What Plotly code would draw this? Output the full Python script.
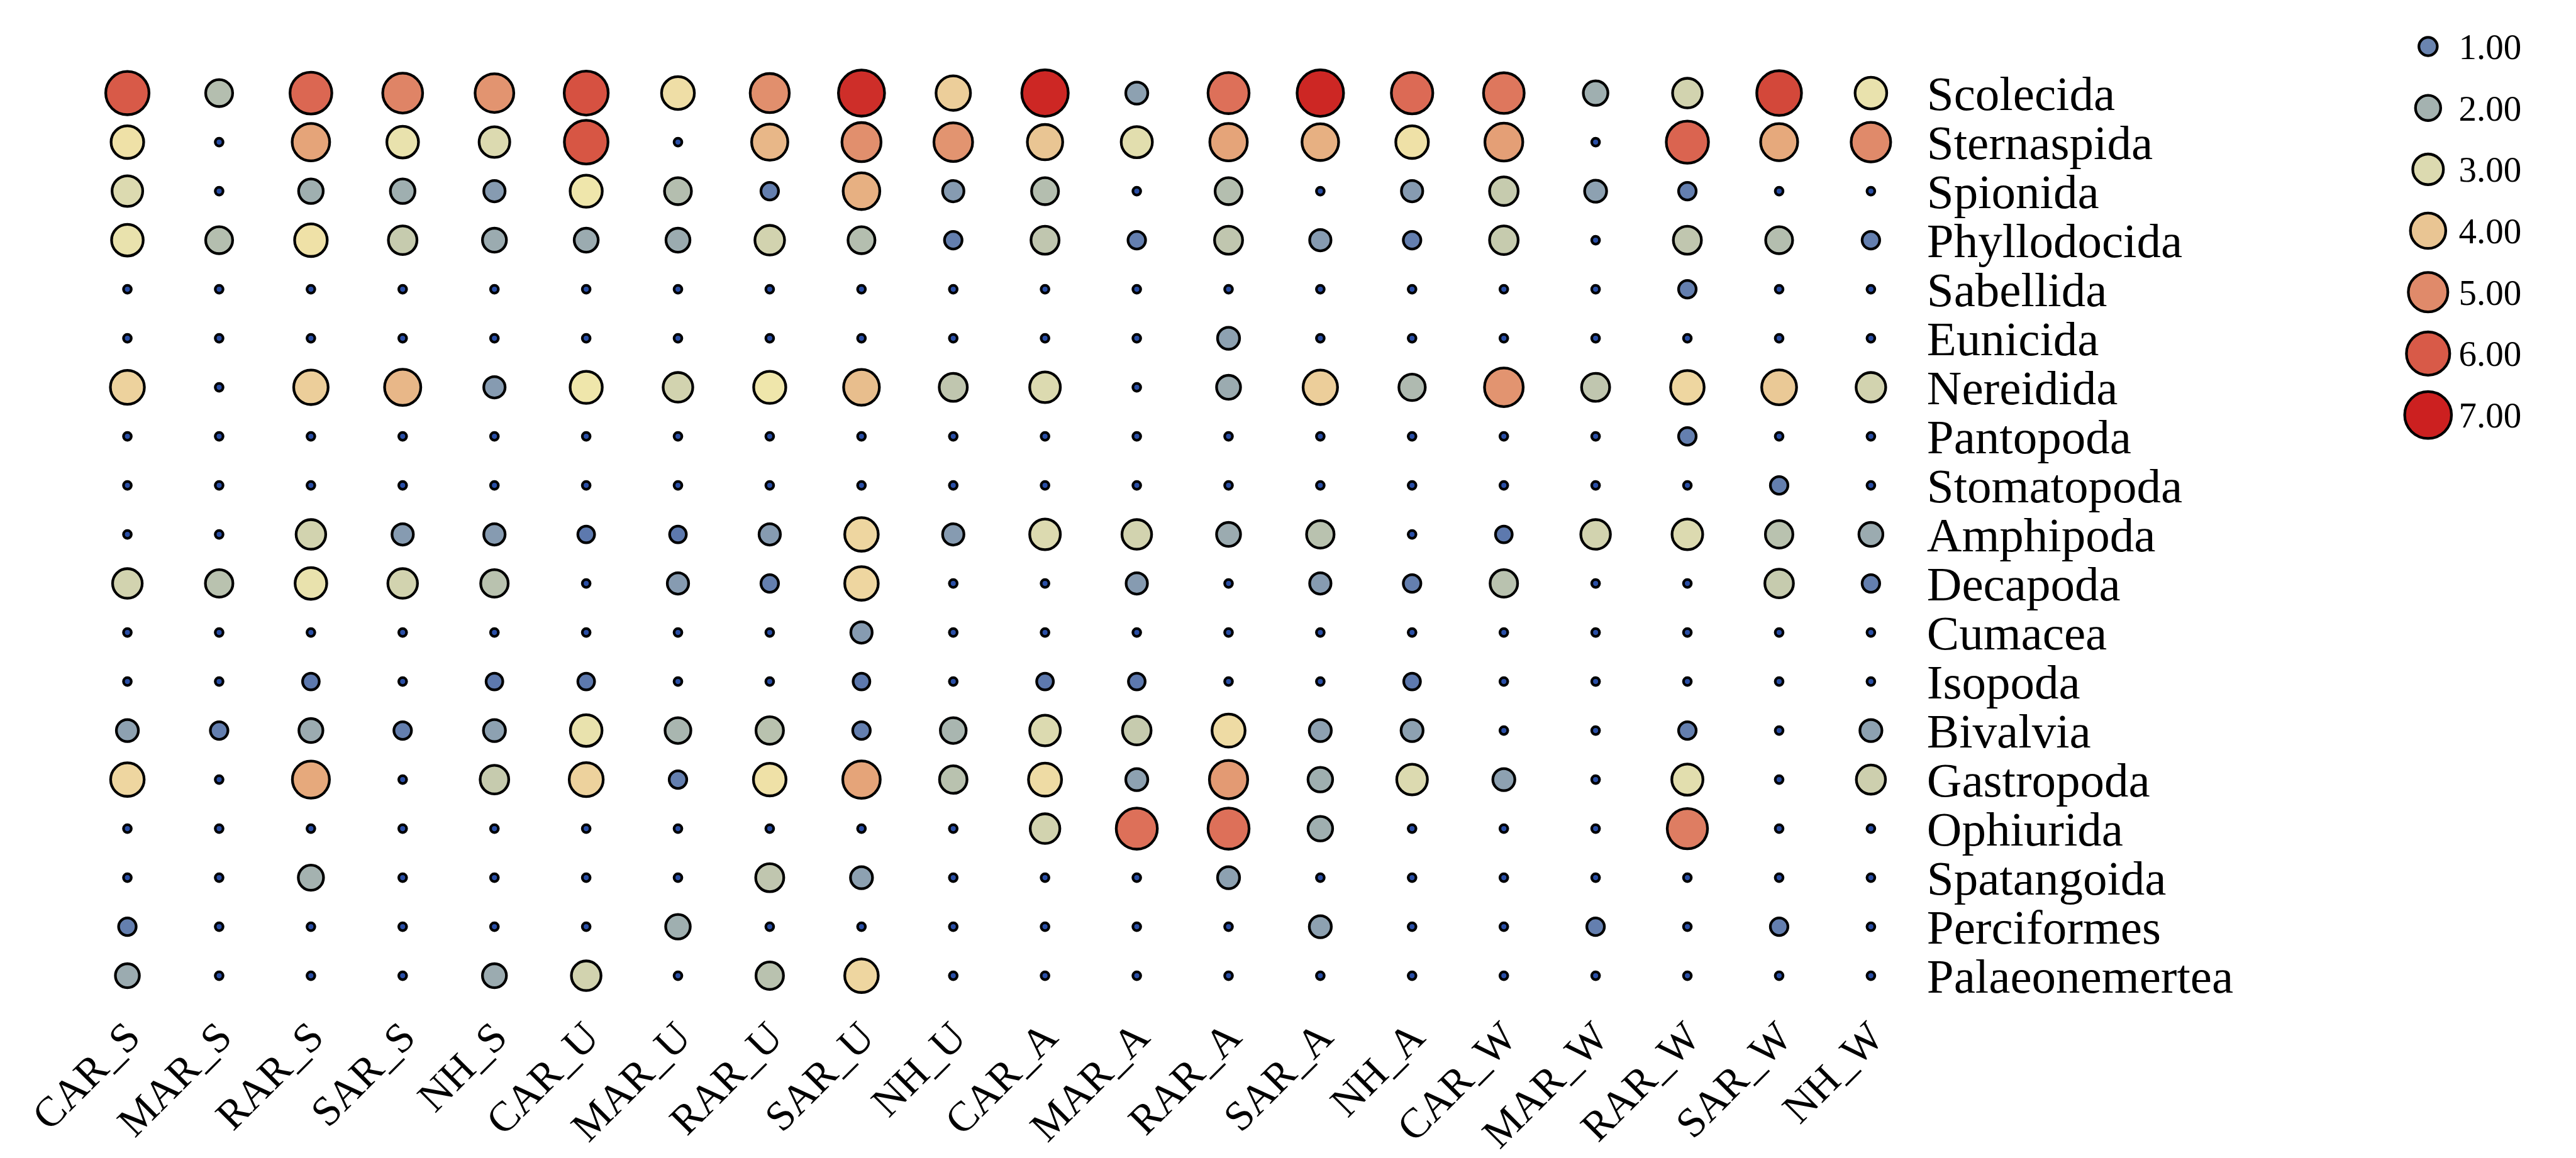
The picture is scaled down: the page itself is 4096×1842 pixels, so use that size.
import numpy as np
import plotly.graph_objects as go

# ---------------- data ----------------
samples = ["CAR_S", "MAR_S", "RAR_S", "SAR_S", "NH_S", "CAR_U", "MAR_U", "RAR_U", "SAR_U", "NH_U",
           "CAR_A", "MAR_A", "RAR_A", "SAR_A", "NH_A", "CAR_W", "MAR_W", "RAR_W", "SAR_W", "NH_W"]

taxa = ["Scolecida", "Sternaspida", "Spionida", "Phyllodocida", "Sabellida", "Eunicida", "Nereidida",
        "Pantopoda", "Stomatopoda", "Amphipoda", "Decapoda", "Cumacea", "Isopoda", "Bivalvia",
        "Gastropoda", "Ophiurida", "Spatangoida", "Perciformes", "Palaeonemertea"]

scolecida      = [6.0, 2.3, 5.6, 5.1, 4.8, 6.2, 3.45, 4.9, 6.8, 3.8, 6.9, 1.5, 5.4, 6.9, 5.5, 5.3, 1.9, 2.8, 6.4, 3.2]
sternaspida    = [3.4, 0.0, 4.5, 3.2, 3.0, 6.1, 0.0, 4.2, 4.9, 4.8, 4.0, 3.1, 4.5, 4.3, 3.4, 4.6, 0.0, 5.7, 4.4, 5.0]
spionida       = [3.0, 0.0, 1.9, 1.9, 1.4, 3.3, 2.3, 0.9, 4.3, 1.4, 2.3, 0.0, 2.3, 0.0, 1.4, 2.6, 1.5, 0.9, 0.0, 0.0]
phyllodocida   = [3.2, 2.3, 3.4, 2.6, 1.8, 1.8, 1.8, 2.8, 2.3, 0.9, 2.5, 0.9, 2.5, 1.4, 0.9, 2.6, 0.0, 2.5, 2.3, 0.9]
sabellida      = [0.0, 0.0, 0.0, 0.0, 0.0, 0.0, 0.0, 0.0, 0.0, 0.0, 0.0, 0.0, 0.0, 0.0, 0.0, 0.0, 0.0, 0.9, 0.0, 0.0]
eunicida       = [0.0, 0.0, 0.0, 0.0, 0.0, 0.0, 0.0, 0.0, 0.0, 0.0, 0.0, 0.0, 1.5, 0.0, 0.0, 0.0, 0.0, 0.0, 0.0, 0.0]
nereidida      = [3.7, 0.0, 3.8, 4.2, 1.4, 3.3, 2.8, 3.3, 4.1, 2.5, 3.0, 0.0, 1.8, 3.8, 2.2, 4.8, 2.5, 3.6, 3.9, 2.8]
pantopoda      = [0.0, 0.0, 0.0, 0.0, 0.0, 0.0, 0.0, 0.0, 0.0, 0.0, 0.0, 0.0, 0.0, 0.0, 0.0, 0.0, 0.0, 0.9, 0.0, 0.0]
stomatopoda    = [0.0, 0.0, 0.0, 0.0, 0.0, 0.0, 0.0, 0.0, 0.0, 0.0, 0.0, 0.0, 0.0, 0.0, 0.0, 0.0, 0.0, 0.0, 0.9, 0.0]
amphipoda      = [0.0, 0.0, 2.8, 1.4, 1.4, 0.8, 0.8, 1.4, 3.6, 1.4, 3.0, 2.8, 1.8, 2.4, 0.0, 0.8, 2.8, 3.0, 2.4, 1.8]
decapoda       = [2.8, 2.4, 3.2, 2.8, 2.4, 0.0, 1.4, 0.9, 3.6, 0.0, 0.0, 1.4, 0.0, 1.4, 0.9, 2.4, 0.0, 0.0, 2.6, 0.9]
cumacea        = [0.0, 0.0, 0.0, 0.0, 0.0, 0.0, 0.0, 0.0, 1.4, 0.0, 0.0, 0.0, 0.0, 0.0, 0.0, 0.0, 0.0, 0.0, 0.0, 0.0]
isopoda        = [0.0, 0.0, 0.8, 0.0, 0.8, 0.8, 0.0, 0.0, 0.8, 0.0, 0.8, 0.8, 0.0, 0.0, 0.8, 0.0, 0.0, 0.0, 0.0, 0.0]
bivalvia       = [1.5, 0.9, 1.8, 0.9, 1.5, 3.2, 2.1, 2.4, 0.9, 2.1, 3.0, 2.6, 3.5, 1.5, 1.5, 0.0, 0.0, 0.9, 0.0, 1.5]
gastropoda     = [3.6, 0.0, 4.4, 0.0, 2.6, 3.7, 0.9, 3.4, 4.5, 2.4, 3.5, 1.5, 4.7, 1.9, 3.0, 1.5, 0.0, 3.1, 0.0, 2.7]
ophiurida      = [0.0, 0.0, 0.0, 0.0, 0.0, 0.0, 0.0, 0.0, 0.0, 0.0, 2.8, 5.4, 5.4, 1.9, 0.0, 0.0, 0.0, 5.2, 0.0, 0.0]
spatangoida    = [0.0, 0.0, 2.0, 0.0, 0.0, 0.0, 0.0, 2.5, 1.5, 0.0, 0.0, 0.0, 1.5, 0.0, 0.0, 0.0, 0.0, 0.0, 0.0, 0.0]
perciformes    = [0.9, 0.0, 0.0, 0.0, 0.0, 0.0, 1.9, 0.0, 0.0, 0.0, 0.0, 0.0, 0.0, 1.5, 0.0, 0.0, 0.9, 0.0, 0.9, 0.0]
palaeonemertea = [1.8, 0.0, 0.0, 0.0, 1.8, 2.8, 0.0, 2.4, 3.6, 0.0, 0.0, 0.0, 0.0, 0.0, 0.0, 0.0, 0.0, 0.0, 0.0, 0.0]

legend_values = [1, 2, 3, 4, 5, 6, 7]
legend_labels = ["1.00", "2.00", "3.00", "4.00", "5.00", "6.00", "7.00"]

# ---------------- styling / scales ----------------
W, H = 4096, 1842
S = 4096 / 4295.0
FONT = "Liberation Serif, Times New Roman, serif"
LW = 4.3
VMAX = 7.0

color_stops = [
    (0.0, "#2a4fa7"), (1.0, "#6a84b0"), (1.5, "#8da1b1"), (2.0, "#a4b2b0"), (2.4, "#b9c2af"),
    (2.7, "#cdcfae"), (3.0, "#dcdab0"), (3.3, "#efe6ab"), (3.6, "#eed6a0"), (4.0, "#e9c593"),
    (4.4, "#e6a97c"), (5.0, "#e08a6a"), (5.5, "#dc6a55"), (6.0, "#d85a48"), (6.5, "#d24436"),
    (7.0, "#cc2020"),
]
colorscale = [[v / VMAX, c] for v, c in color_stops]


def size_of(v):
    v = np.asarray(v, dtype=float)
    return S * np.sqrt(306.0 + 930.0 * v) - LW


rows = [scolecida, sternaspida, spionida, phyllodocida, sabellida, eunicida, nereidida, pantopoda,
        stomatopoda, amphipoda, decapoda, cumacea, isopoda, bivalvia, gastropoda, ophiurida,
        spatangoida, perciformes, palaeonemertea]

xs, ys, vs = [], [], []
for t, vals in zip(taxa, rows):
    for s, v in zip(samples, vals):
        xs.append(s)
        ys.append(t)
        vs.append(v)


def fx(full_px):
    return full_px * S / W


def fy(full_px):
    return 1 - full_px * S / H


fig = go.Figure()
fig.add_trace(go.Scatter(
    x=xs, y=ys, mode="markers",
    marker=dict(size=size_of(vs), sizemode="diameter", color=vs, colorscale=colorscale,
                cmin=0, cmax=VMAX, line=dict(color="black", width=LW), opacity=1),
    showlegend=False, hoverinfo="skip", xaxis="x", yaxis="y",
))

fig.add_trace(go.Scatter(
    x=[0] * len(legend_values), y=legend_values, mode="markers",
    marker=dict(size=size_of(legend_values), sizemode="diameter", color=legend_values,
                colorscale=colorscale, cmin=0, cmax=VMAX, line=dict(color="black", width=LW),
                opacity=1),
    showlegend=False, hoverinfo="skip", xaxis="x2", yaxis="y2",
))

axis_common = dict(showgrid=False, zeroline=False, showline=False, ticks="", automargin=False)

fig.update_layout(
    width=W, height=H, autosize=False,
    margin=dict(l=0, r=0, t=0, b=0, pad=0),
    paper_bgcolor="white", plot_bgcolor="white",
    font=dict(family=FONT, color="black"),
    xaxis=dict(domain=[fx(127.5), fx(3187.5)], type="category", categoryorder="array",
               categoryarray=samples, range=[-0.5, 19.5], tickangle=-45,
               tickmode="array", tickvals=samples, ticktext=samples,
               tickfont=dict(size=67, family=FONT, color="black"), anchor="y",
               ticklabelstandoff=4, **axis_common),
    yaxis=dict(domain=[fy(1660), fy(106)], type="category", categoryorder="array",
               categoryarray=taxa, range=[18.5, -0.5], side="right",
               tickmode="array", tickvals=taxa, ticktext=taxa,
               tickfont=dict(size=77, family=FONT, color="black"), anchor="x",
               ticklabelstandoff=15, **axis_common),
    xaxis2=dict(domain=[fx(3990), fx(4090)], range=[-1, 1], anchor="y2",
                showticklabels=False, **axis_common),
    yaxis2=dict(domain=[fy(735), fy(18)], range=[7.5, 0.5], anchor="x2", side="right",
                tickmode="array", tickvals=legend_values, ticktext=legend_labels,
                tickfont=dict(size=57, family=FONT, color="black"), ticklabelstandoff=0,
                **axis_common),
)

fig.write_html("out.html")
